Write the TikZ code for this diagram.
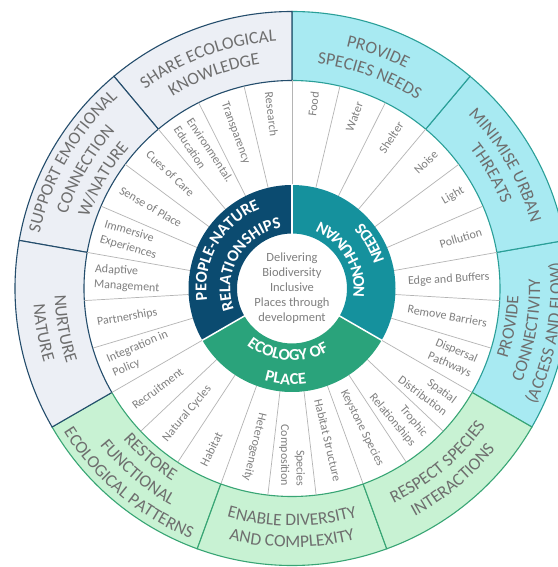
\documentclass[tikz,border=0pt]{standalone}
\usepackage{fontspec}
\setmainfont{Carlito}
\usetikzlibrary{decorations.text}
\definecolor{navyring}{HTML}{0B4B70}
\definecolor{tealring}{HTML}{15919D}
\definecolor{greenring}{HTML}{2AA37B}
\definecolor{grayfill}{HTML}{ECEFF5}
\definecolor{grayedge}{HTML}{244D6C}
\definecolor{cyanfill}{HTML}{A8EAF2}
\definecolor{cyanedge}{HTML}{2A9F98}
\definecolor{greenfill}{HTML}{C8F2D3}
\definecolor{greenedge}{HTML}{38A574}
\definecolor{itemgray}{HTML}{7F7F7F}
\definecolor{labelgray}{HTML}{6E6E6E}
\definecolor{spokegray}{HTML}{B4B4B4}
\newcommand{\ringfont}{\color{labelgray}\fontsize{17.5}{21}\selectfont}
\newcommand{\hubfont}{\color{white}\bfseries\fontsize{16.5}{20}\selectfont}
\begin{document}
\begin{tikzpicture}[
  item/.style={text=itemgray, font=\fontsize{12}{15.5}\selectfont, inner sep=1pt},
  itemL/.style={item, anchor=west, align=left},
  itemR/.style={item, anchor=east, align=right},
  spoke/.style={draw=spokegray, line width=0.7pt},
  grayseg/.style={fill=grayfill, draw=grayedge, line width=1.1pt},
  greenseg/.style={fill=greenfill, draw=greenedge, line width=1.1pt},
  cyanseg/.style={fill=cyanfill, draw=cyanedge, line width=1.1pt},
  ringtext/.style={decorate, decoration={text along path, text align=center, text={|\ringfont|#1}}},
  hubtext/.style={decorate, decoration={text along path, text align=center, text={|\hubfont|#1}}}
]
\useasboundingbox (-292pt,-278.5pt) rectangle (265pt,288.5pt);
\fill[white] (-292pt,-278.5pt) rectangle (265pt,288.5pt);

\foreach \a/\b in {330/370,10/50,50/90}
  \filldraw[cyanseg] (\a:208pt) arc[start angle=\a, end angle=\b, radius=208pt] -- (\b:277pt) arc[start angle=\b, end angle=\a, radius=277pt] -- cycle;
\foreach \a/\b in {210/250,250/290,290/330}
  \filldraw[greenseg] (\a:208pt) arc[start angle=\a, end angle=\b, radius=208pt] -- (\b:277pt) arc[start angle=\b, end angle=\a, radius=277pt] -- cycle;
\foreach \a/\b in {90/130,130/170,170/210}
  \filldraw[grayseg] (\a:208pt) arc[start angle=\a, end angle=\b, radius=208pt] -- (\b:277pt) arc[start angle=\b, end angle=\a, radius=277pt] -- cycle;

\foreach \k [evaluate=\k as \ang using 90+13.3333*\k] in {0,...,26}
  \draw[spoke] (\ang:103.5pt) -- (\ang:208pt);

\fill[navyring] (90:55pt) arc[start angle=90, end angle=210, radius=55pt] -- (210:103.5pt) arc[start angle=210, end angle=90, radius=103.5pt] -- cycle;
\fill[greenring] (210:55pt) arc[start angle=210, end angle=330, radius=55pt] -- (330:103.5pt) arc[start angle=330, end angle=210, radius=103.5pt] -- cycle;
\fill[tealring] (-30:55pt) arc[start angle=-30, end angle=90, radius=55pt] -- (90:103.5pt) arc[start angle=90, end angle=-30, radius=103.5pt] -- cycle;
\foreach \ang in {90,210,330}
  \draw[white, line width=1.5pt] (\ang:54pt) -- (\ang:104pt);

\node[align=center, text=itemgray, font=\fontsize{12.5}{15}\selectfont] (hub) at (0,0) {Delivering\\Biodiversity\\Inclusive\\Places through\\development};

\path[hubtext={PEOPLE-NATURE}] (220:85.7pt) arc[start angle=220, end angle=80, radius=85.7pt];
\path[hubtext={RELATIONSHIPS}] (220:61.7pt) arc[start angle=220, end angle=80, radius=61.7pt];
\path[hubtext={NON-HUMAN}] (-40:72.3pt) arc[start angle=-40, end angle=100, radius=72.3pt];
\path[hubtext={NEEDS}] (-40:96.3pt) arc[start angle=-40, end angle=100, radius=96.3pt];
\path[hubtext={ECOLOGY OF}] (196:72.3pt) arc[start angle=196, end angle=336, radius=72.3pt];
\path[hubtext={PLACE}] (196:96.3pt) arc[start angle=196, end angle=336, radius=96.3pt];

\node[itemL, rotate=-83.33] (research) at (96.67:199pt) {Research};
\node[itemL, rotate=-70] (transparency) at (110:199pt) {Transparency};
\node[itemL, rotate=-56.67] (enved) at (123.33:199pt) {Environmental.\\Education};
\node[itemL, rotate=-43.33] (cues) at (136.67:199pt) {Cues of Care};
\node[itemL, rotate=-30] (sense) at (150:199pt) {Sense of Place};
\node[itemL, rotate=-16.67] (immersive) at (163.33:199pt) {Immersive\\Experiences};
\node[itemL, rotate=-3.33] (adaptive) at (176.67:199pt) {Adaptive\\Management};
\node[itemL, rotate=10] (partner) at (190:199pt) {Partnerships};
\node[itemL, rotate=23.33] (policy) at (203.33:199pt) {Integration in\\Policy};
\node[itemL, rotate=36.67] (recruit) at (216.67:199pt) {Recruitment};
\node[itemL, rotate=50] (cycles) at (230:199pt) {Natural Cycles};
\node[itemL, rotate=63.33] (habitat) at (243.33:199pt) {Habitat};
\node[itemR, rotate=256.67] (hetero) at (256.67:199pt) {Heterogeneity};
\node[itemR, rotate=270] (composition) at (270:199pt) {Species\\Composition};
\node[itemR, rotate=283.33] (structure) at (283.33:199pt) {Habitat Structure};
\node[itemR, rotate=296.67] (keystone) at (296.67:199pt) {Keystone Species};
\node[itemR, rotate=310] (trophic) at (310:199pt) {Trophic\\Relationships};
\node[itemR, rotate=323.33] (spatial) at (323.33:199pt) {Spatial\\Distribution};
\node[itemR, rotate=336.67] (dispersal) at (336.67:199pt) {Dispersal\\Pathways};
\node[itemR, rotate=350] (barriers) at (350:199pt) {Remove Barriers};
\node[itemR, rotate=3.33] (edge) at (3.33:199pt) {Edge and Buffers};
\node[itemR, rotate=16.67] (pollution) at (16.67:199pt) {Pollution};
\node[itemR, rotate=30] (light) at (30:199pt) {Light};
\node[itemR, rotate=43.33] (noise) at (43.33:199pt) {Noise};
\node[itemR, rotate=56.67] (shelter) at (56.67:199pt) {Shelter};
\node[itemR, rotate=70] (water) at (70:199pt) {Water};
\node[itemR, rotate=83.33] (food) at (83.33:199pt) {Food};

\path[ringtext={SHARE ECOLOGICAL}] (148:247.6pt) arc[start angle=148, end angle=72, radius=247.6pt];
\path[ringtext={KNOWLEDGE}] (148:226.1pt) arc[start angle=148, end angle=72, radius=226.1pt];
\path[ringtext={SUPPORT EMOTIONAL}] (188:258.4pt) arc[start angle=188, end angle=112, radius=258.4pt];
\path[ringtext={CONNECTION}] (188:236.9pt) arc[start angle=188, end angle=112, radius=236.9pt];
\path[ringtext={W/NATURE}] (188:215.4pt) arc[start angle=188, end angle=112, radius=215.4pt];
\path[ringtext={NURTURE}] (152:237.4pt) arc[start angle=152, end angle=228, radius=237.4pt];
\path[ringtext={NATURE}] (152:258.9pt) arc[start angle=152, end angle=228, radius=258.9pt];
\path[ringtext={RESTORE}] (192:226.6pt) arc[start angle=192, end angle=268, radius=226.6pt];
\path[ringtext={FUNCTIONAL}] (192:248.1pt) arc[start angle=192, end angle=268, radius=248.1pt];
\path[ringtext={ECOLOGICAL PATTERNS}] (192:269.6pt) arc[start angle=192, end angle=268, radius=269.6pt];
\path[ringtext={ENABLE DIVERSITY}] (232:237.4pt) arc[start angle=232, end angle=308, radius=237.4pt];
\path[ringtext={AND COMPLEXITY}] (232:258.9pt) arc[start angle=232, end angle=308, radius=258.9pt];
\path[ringtext={RESPECT SPECIES}] (272:237.4pt) arc[start angle=272, end angle=348, radius=237.4pt];
\path[ringtext={INTERACTIONS}] (272:258.9pt) arc[start angle=272, end angle=348, radius=258.9pt];
\path[ringtext={PROVIDE}] (312:226.6pt) arc[start angle=312, end angle=388, radius=226.6pt];
\path[ringtext={CONNECTIVITY}] (312:248.1pt) arc[start angle=312, end angle=388, radius=248.1pt];
\path[ringtext={(ACCESS AND FLOW)}] (312:269.6pt) arc[start angle=312, end angle=388, radius=269.6pt];
\path[ringtext={MINIMISE URBAN}] (68:247.6pt) arc[start angle=68, end angle=-8, radius=247.6pt];
\path[ringtext={THREATS}] (68:226.1pt) arc[start angle=68, end angle=-8, radius=226.1pt];
\path[ringtext={PROVIDE}] (108:247.6pt) arc[start angle=108, end angle=32, radius=247.6pt];
\path[ringtext={SPECIES NEEDS}] (108:226.1pt) arc[start angle=108, end angle=32, radius=226.1pt];
\end{tikzpicture}
\end{document}
